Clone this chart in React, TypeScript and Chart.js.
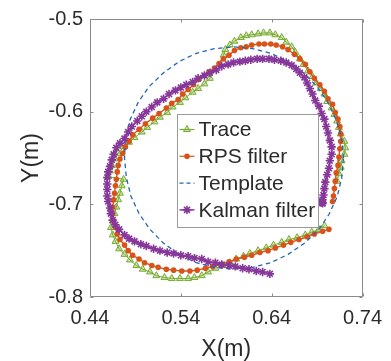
import { useEffect, useRef } from 'react';
import { Chart, registerables } from 'chart.js';

Chart.register(...registerables);

const seriesNames = ['Trace', 'RPS filter', 'Template', 'Kalman filter'];
const xTicks = [0.44, 0.54, 0.64, 0.74];
const yTicks = [-0.8, -0.7, -0.6, -0.5];

const traceX = [0.712,0.714,0.716,0.717,0.720,0.721,0.720,0.716,0.714,0.712,0.709,0.706,0.701,0.698,0.694,0.689,0.685,0.680,0.675,0.671,0.666,0.662,0.656,0.651,0.644,0.638,0.631,0.625,0.618,0.612,0.606,0.599,0.594,0.589,0.587,0.572,0.566,0.559,0.553,0.545,0.539,0.531,0.525,0.517,0.511,0.503,0.497,0.489,0.483,0.477,0.471,0.467,0.464,0.462,0.460,0.477,0.475,0.473,0.471,0.469,0.467,0.465,0.463,0.465,0.468,0.472,0.478,0.484,0.491,0.498,0.506,0.513,0.522,0.530,0.539,0.548,0.555,0.563,0.570,0.578,0.586,0.594,0.601,0.609,0.616,0.625,0.634,0.642,0.651,0.659,0.668,0.677,0.684,0.692,0.698];
const traceY = [-0.675,-0.667,-0.660,-0.653,-0.646,-0.639,-0.632,-0.624,-0.617,-0.610,-0.603,-0.596,-0.589,-0.581,-0.575,-0.569,-0.562,-0.556,-0.549,-0.543,-0.536,-0.530,-0.525,-0.520,-0.517,-0.515,-0.515,-0.516,-0.517,-0.518,-0.520,-0.524,-0.528,-0.533,-0.539,-0.564,-0.570,-0.575,-0.579,-0.585,-0.590,-0.595,-0.601,-0.606,-0.611,-0.617,-0.622,-0.628,-0.633,-0.638,-0.645,-0.651,-0.658,-0.664,-0.670,-0.673,-0.680,-0.688,-0.695,-0.703,-0.710,-0.718,-0.725,-0.733,-0.740,-0.748,-0.754,-0.760,-0.766,-0.770,-0.773,-0.777,-0.779,-0.780,-0.780,-0.780,-0.779,-0.777,-0.773,-0.769,-0.766,-0.763,-0.759,-0.756,-0.753,-0.750,-0.747,-0.744,-0.741,-0.738,-0.736,-0.733,-0.730,-0.727,-0.723];

const rpsX = [0.703,0.696,0.687,0.679,0.670,0.661,0.653,0.644,0.636,0.627,0.618,0.610,0.601,0.593,0.584,0.575,0.567,0.558,0.550,0.541,0.532,0.524,0.515,0.508,0.500,0.494,0.487,0.482,0.478,0.473,0.470,0.468,0.466,0.465,0.465,0.466,0.467,0.468,0.469,0.470,0.471,0.473,0.476,0.479,0.483,0.487,0.494,0.501,0.509,0.516,0.524,0.530,0.537,0.542,0.548,0.554,0.560,0.566,0.571,0.577,0.582,0.587,0.593,0.599,0.606,0.612,0.618,0.626,0.632,0.639,0.645,0.652,0.658,0.665,0.671,0.677,0.682,0.687,0.693,0.698,0.702,0.707,0.710,0.713,0.715,0.716,0.716,0.715,0.714,0.713,0.711,0.710,0.709,0.708,0.707];
const rpsY = [-0.727,-0.729,-0.732,-0.735,-0.738,-0.741,-0.744,-0.747,-0.750,-0.752,-0.755,-0.757,-0.759,-0.762,-0.765,-0.767,-0.769,-0.771,-0.772,-0.772,-0.771,-0.770,-0.768,-0.766,-0.763,-0.759,-0.755,-0.750,-0.744,-0.738,-0.732,-0.725,-0.718,-0.710,-0.703,-0.695,-0.688,-0.680,-0.673,-0.665,-0.658,-0.651,-0.645,-0.638,-0.632,-0.625,-0.619,-0.613,-0.607,-0.602,-0.596,-0.591,-0.587,-0.581,-0.576,-0.571,-0.565,-0.561,-0.557,-0.553,-0.548,-0.543,-0.539,-0.534,-0.531,-0.530,-0.528,-0.527,-0.527,-0.527,-0.528,-0.530,-0.533,-0.538,-0.543,-0.549,-0.557,-0.564,-0.571,-0.578,-0.586,-0.592,-0.601,-0.608,-0.616,-0.624,-0.632,-0.640,-0.649,-0.658,-0.666,-0.675,-0.683,-0.691,-0.697];

const templateX = [0.719,0.717,0.711,0.702,0.690,0.675,0.658,0.639,0.619,0.598,0.577,0.557,0.538,0.521,0.505,0.493,0.484,0.479,0.478,0.480,0.485,0.494,0.506,0.521,0.538,0.557,0.577,0.598,0.619,0.639,0.658,0.676,0.691,0.703,0.712,0.717,0.719];
const templateY = [-0.650,-0.629,-0.609,-0.590,-0.573,-0.558,-0.546,-0.537,-0.532,-0.530,-0.532,-0.537,-0.546,-0.558,-0.573,-0.590,-0.609,-0.629,-0.650,-0.671,-0.691,-0.710,-0.727,-0.742,-0.754,-0.763,-0.768,-0.770,-0.768,-0.763,-0.754,-0.742,-0.728,-0.711,-0.692,-0.672,-0.650];

const kalmanX = [0.638,0.630,0.623,0.615,0.608,0.600,0.593,0.585,0.578,0.570,0.563,0.555,0.548,0.540,0.532,0.525,0.517,0.510,0.502,0.496,0.489,0.483,0.478,0.472,0.468,0.465,0.463,0.462,0.460,0.459,0.459,0.459,0.459,0.460,0.462,0.464,0.466,0.469,0.473,0.478,0.482,0.486,0.492,0.497,0.502,0.508,0.514,0.521,0.527,0.534,0.540,0.546,0.553,0.559,0.566,0.572,0.579,0.585,0.592,0.598,0.605,0.611,0.617,0.624,0.630,0.637,0.643,0.650,0.656,0.662,0.667,0.671,0.676,0.679,0.682,0.685,0.688,0.692,0.695,0.698,0.700,0.702,0.704,0.706,0.706,0.704,0.703,0.701,0.699,0.698,0.697,0.696,0.695,0.696,0.695,0.696];
const kalmanY = [-0.775,-0.773,-0.772,-0.770,-0.769,-0.767,-0.766,-0.765,-0.763,-0.762,-0.759,-0.758,-0.756,-0.755,-0.753,-0.752,-0.750,-0.748,-0.745,-0.743,-0.740,-0.737,-0.733,-0.727,-0.722,-0.717,-0.710,-0.704,-0.697,-0.691,-0.684,-0.678,-0.671,-0.665,-0.659,-0.652,-0.646,-0.639,-0.634,-0.629,-0.622,-0.616,-0.610,-0.605,-0.600,-0.595,-0.590,-0.586,-0.581,-0.577,-0.574,-0.571,-0.568,-0.564,-0.561,-0.558,-0.555,-0.551,-0.549,-0.547,-0.546,-0.545,-0.544,-0.543,-0.543,-0.543,-0.544,-0.545,-0.547,-0.550,-0.554,-0.558,-0.563,-0.569,-0.575,-0.581,-0.588,-0.594,-0.602,-0.608,-0.616,-0.623,-0.631,-0.638,-0.646,-0.653,-0.661,-0.668,-0.676,-0.683,-0.690,-0.695,-0.698,-0.699,-0.697,-0.698];

const FONT = '"Liberation Sans", Arial, Helvetica, sans-serif';
const TXT = '#2b2b2b';
const AXIS = '#8a8a8a';
const GREEN = '#77AC30';
const RED = '#D95319';
const BLUE = '#2166B8';
const PURPLE = '#87379A';

const pts = (xs: number[], ys: number[]) => xs.map((x, i) => ({ x, y: ys[i] }));

function drawMarker(ctx: CanvasRenderingContext2D, kind: string, x: number, y: number) {
  ctx.save();
  if (kind === 'tri') {
    const r = 4;
    ctx.beginPath();
    ctx.moveTo(x, y - r);
    ctx.lineTo(x - r * 0.866, y + r * 0.5);
    ctx.lineTo(x + r * 0.866, y + r * 0.5);
    ctx.closePath();
    ctx.fillStyle = 'rgba(119,172,48,0.35)';
    ctx.strokeStyle = GREEN;
    ctx.lineWidth = 1;
    ctx.fill();
    ctx.stroke();
  } else if (kind === 'dot') {
    ctx.beginPath();
    ctx.arc(x, y, 2.8, 0, Math.PI * 2);
    ctx.fillStyle = RED;
    ctx.fill();
  } else if (kind === 'star') {
    const r = 4.2;
    ctx.strokeStyle = PURPLE;
    ctx.lineWidth = 1.6;
    ctx.beginPath();
    for (let k = 0; k < 4; k++) {
      const a = (k * Math.PI) / 4;
      ctx.moveTo(x - r * Math.cos(a), y - r * Math.sin(a));
      ctx.lineTo(x + r * Math.cos(a), y + r * Math.sin(a));
    }
    ctx.stroke();
  }
  ctx.restore();
}

const framePlugin = {
  id: 'matlabFrame',
  beforeDatasetsDraw(chart: any) {
    const { ctx, chartArea: a, scales } = chart;
    ctx.save();
    ctx.strokeStyle = AXIS;
    ctx.lineWidth = 1;
    const L = Math.round(a.left) + 0.5;
    const R = Math.round(a.right) - 0.5;
    const T = Math.round(a.top) + 0.5;
    const B = Math.round(a.bottom) - 0.5;
    ctx.beginPath();
    ctx.rect(L, T, R - L, B - T);
    const tl = 3;
    for (const v of xTicks) {
      const p = Math.round(scales.x.getPixelForValue(v)) + 0.5;
      ctx.moveTo(p, B); ctx.lineTo(p, B - tl);
      ctx.moveTo(p, T); ctx.lineTo(p, T + tl);
    }
    for (const v of yTicks) {
      const p = Math.round(scales.y.getPixelForValue(v)) + 0.5;
      ctx.moveTo(L, p); ctx.lineTo(L + tl, p);
      ctx.moveTo(R, p); ctx.lineTo(R - tl, p);
    }
    ctx.stroke();
    ctx.restore();
  },
};

const legendPlugin = {
  id: 'boxLegend',
  afterDatasetsDraw(chart: any) {
    const { ctx, chartArea: a } = chart;
    const left = a.left + 87.5;
    const top = a.top + 95.5;
    const w = 141;
    const h = 113;
    ctx.save();
    ctx.fillStyle = '#ffffff';
    ctx.fillRect(left, top, w, h);
    ctx.strokeStyle = '#9a9a9a';
    ctx.lineWidth = 1;
    ctx.strokeRect(left, top, w, h);
    const kinds = ['tri', 'dot', 'dash', 'star'];
    const colors = [GREEN, RED, BLUE, PURPLE];
    for (let i = 0; i < seriesNames.length; i++) {
      const cy = top + 15 + i * 26.8;
      ctx.save();
      ctx.strokeStyle = colors[i];
      ctx.lineWidth = i === 3 ? 1.5 : 1.2;
      if (kinds[i] === 'dash') ctx.setLineDash([4, 3]);
      ctx.beginPath();
      ctx.moveTo(left + 2, cy);
      ctx.lineTo(left + 17, cy);
      ctx.stroke();
      ctx.restore();
      if (kinds[i] !== 'dash') drawMarker(ctx, kinds[i], left + 9.5, cy);
      ctx.fillStyle = TXT;
      ctx.font = `21px ${FONT}`;
      ctx.textBaseline = 'middle';
      ctx.textAlign = 'left';
      ctx.fillText(seriesNames[i], left + 21, cy + 1);
    }
    ctx.restore();
  },
};

export default function App() {
  const ref = useRef<HTMLCanvasElement>(null);
  useEffect(() => {
    document.body.style.margin = '0';
    const canvas = ref.current;
    if (!canvas) return;
    const chart = new Chart(canvas, {
      type: 'scatter',
      data: {
        datasets: [
          {
            label: seriesNames[3],
            data: pts(kalmanX, kalmanY),
            showLine: true,
            borderColor: PURPLE,
            borderWidth: 1.6,
            pointStyle: 'star',
            pointRadius: 4.2,
            pointBorderWidth: 1.6,
            pointBorderColor: PURPLE,
            pointBackgroundColor: PURPLE,
          },
          {
            label: seriesNames[2],
            data: pts(templateX, templateY),
            showLine: true,
            borderColor: BLUE,
            borderWidth: 1.3,
            borderDash: [4.5, 3.5],
            pointRadius: 0,
          },
          {
            label: seriesNames[1],
            data: pts(rpsX, rpsY),
            showLine: true,
            borderColor: RED,
            borderWidth: 1.4,
            pointStyle: 'circle',
            pointRadius: 2.8,
            pointBorderWidth: 0,
            pointBackgroundColor: RED,
          },
          {
            label: seriesNames[0],
            data: pts(traceX, traceY),
            showLine: true,
            borderColor: GREEN,
            borderWidth: 1,
            pointStyle: 'triangle',
            pointRadius: 4,
            pointBorderWidth: 1,
            pointBorderColor: GREEN,
            pointBackgroundColor: 'rgba(119,172,48,0.35)',
          },
        ],
      },
      options: {
        animation: false,
        responsive: false,
        devicePixelRatio: 1,
        layout: { padding: { left: 0, top: 17, right: 22, bottom: 0 } },
        plugins: { legend: { display: false }, tooltip: { enabled: false } },
        scales: {
          x: {
            type: 'linear',
            min: 0.44,
            max: 0.74,
            afterBuildTicks: (s: any) => { s.ticks = xTicks.map((v) => ({ value: v })); },
            afterFit: (s: any) => { s.height = 64; },
            grid: { display: false, drawTicks: false },
            border: { display: false },
            ticks: {
              padding: 9,
              autoSkip: false,
              maxRotation: 0,
              color: TXT,
              font: { family: FONT, size: 20 },
              callback: (v: any) => Number(v).toFixed(2),
            },
            title: {
              display: true,
              text: 'X(m)',
              color: TXT,
              font: { family: FONT, size: 23 },
              padding: { top: 0, bottom: -2 },
            },
          },
          y: {
            type: 'linear',
            min: -0.8,
            max: -0.5,
            afterBuildTicks: (s: any) => { s.ticks = yTicks.map((v) => ({ value: v })); },
            afterFit: (s: any) => { s.width = 90; },
            grid: { display: false, drawTicks: false },
            border: { display: false },
            ticks: {
              padding: 7,
              autoSkip: false,
              color: TXT,
              font: { family: FONT, size: 20 },
              callback: (v: any) => Number(v).toFixed(1),
            },
            title: {
              display: true,
              text: 'Y(m)',
              color: TXT,
              font: { family: FONT, size: 23 },
              padding: { top: 18, bottom: 0 },
            },
          },
        },
      },
      plugins: [framePlugin, legendPlugin],
    } as any);
    return () => chart.destroy();
  }, []);
  return <canvas ref={ref} width={391} height={361} style={{ display: 'block' }} />;
}
